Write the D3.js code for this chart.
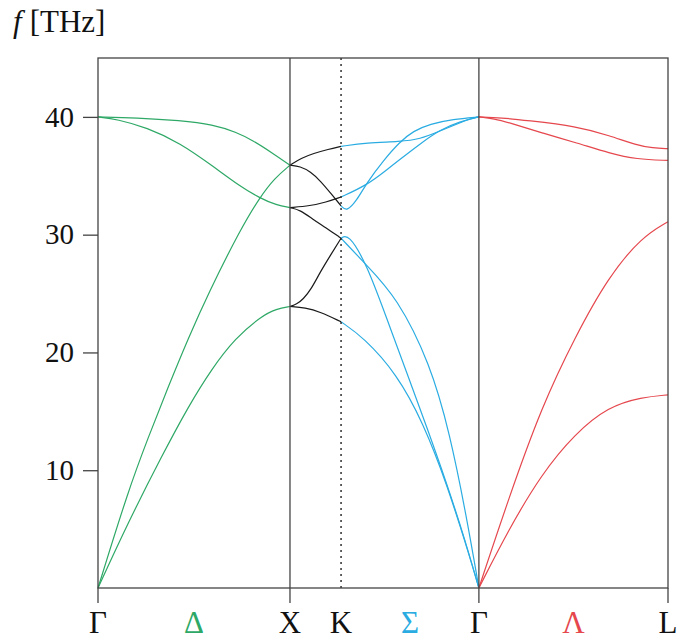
<!DOCTYPE html>
<html>
<head>
<script src="https://d3js.org/d3.v7.min.js"></script>
<style>
  body { margin: 0; background: #fff; }
</style>
</head>
<body>
<div id="chart"></div>
<script>
// high symmetry points along the path (path coordinate)
const pointLabels = ["Γ", "X", "K", "Γ", "L"];
const pointPos = [0, 1, 1.266, 1.984, 2.969];
const yTicks = [10, 20, 30, 40];

// direction labels sit between two points
const dirLabels = ["Δ", "Σ", "Λ"];
const dirBetween = [[0, 1], [2, 3], [3, 4]];

// branches as [t, f] with t = fraction along the segment, f in THz
const deltaBranches = [
  [[0, 0], [0.158, 5.6], [0.332, 11.2], [0.47, 15.4], [0.592, 18.6], [0.714, 21.2], [0.852, 23.1], [0.93, 23.7], [1, 23.9]],
  [[0, 0], [0.158, 8.3], [0.262, 12.8], [0.366, 17.1], [0.47, 21.2], [0.574, 25.0], [0.74, 30.4], [0.844, 33.2], [0.92, 34.8], [1, 35.9]],
  [[0, 40], [0.1, 39.8], [0.253, 39.1], [0.427, 37.8], [0.6, 35.8], [0.74, 34.1], [0.844, 33.1], [0.93, 32.5], [1, 32.3]],
  [[0, 40], [0.2, 39.93], [0.427, 39.7], [0.6, 39.35], [0.72, 38.7], [0.807, 38.0], [0.911, 36.9], [1, 35.9]]
];

const xkBranches = [
  [[0, 35.9], [0.22, 36.5], [0.46, 36.9], [0.75, 37.25], [1, 37.5]],
  [[0, 35.9], [0.2, 35.8], [0.4, 35.35], [0.6, 34.55], [0.8, 33.5], [1, 32.45]],
  [[0, 32.3], [0.4, 32.45], [0.7, 32.75], [1, 33.2]],
  [[0, 32.3], [0.2, 32.1], [0.45, 31.3], [0.7, 30.6], [1, 29.7]],
  [[0, 23.9], [0.13, 24.1], [0.255, 24.5], [0.42, 25.4], [0.588, 26.8], [0.8, 28.3], [1, 29.7]],
  [[0, 23.9], [0.3, 23.8], [0.588, 23.45], [1, 22.6]]
];

const sigmaBranches = [
  [[0, 37.5], [0.186, 37.8], [0.428, 37.9], [0.572, 38.1], [0.717, 38.8], [0.862, 39.5], [0.94, 39.85], [1, 40]],
  [[0, 32.45], [0.041, 31.95], [0.114, 32.9], [0.186, 34.4], [0.307, 36.3], [0.428, 37.9], [0.524, 38.8], [0.645, 39.4], [0.812, 39.8], [1, 40]],
  [[0, 33.2], [0.186, 34.2], [0.331, 35.5], [0.428, 36.4], [0.572, 37.7], [0.717, 38.9], [0.862, 39.6], [1, 40]],
  [[0, 29.7], [0.053, 30.1], [0.186, 27.5], [0.331, 22.9], [0.476, 18.3], [0.621, 13.7], [0.766, 8.9], [0.886, 4.6], [1, 0]],
  [[0, 29.7], [0.186, 27.4], [0.404, 24.7], [0.645, 19.1], [0.79, 13.1], [0.911, 6.0], [1, 0]],
  [[0, 22.6], [0.161, 21.3], [0.404, 18.2], [0.597, 14.0], [0.766, 8.9], [0.935, 2.6], [1, 0]]
];

const lambdaBranches = [
  [[0, 40], [0.12, 39.93], [0.252, 39.7], [0.517, 39.2], [0.693, 38.4], [0.834, 37.6], [0.92, 37.35], [1, 37.3]],
  [[0, 40], [0.08, 39.85], [0.164, 39.5], [0.34, 38.6], [0.517, 37.8], [0.693, 36.9], [0.834, 36.4], [1, 36.3]],
  [[0, 0], [0.155, 7.5], [0.332, 15.4], [0.508, 21.3], [0.684, 26.4], [0.861, 29.8], [1, 31.1]],
  [[0, 0], [0.155, 4.9], [0.332, 9.7], [0.508, 13.1], [0.684, 15.4], [0.861, 16.2], [1, 16.4]]
];

const green = "#2ea866", blue = "#2aace2", red = "#e5474d", black = "#1a1a1a";

const segments = [
  { from: 0, to: 1, branches: deltaBranches, color: green },
  { from: 1, to: 2, branches: xkBranches, color: black },
  { from: 2, to: 3, branches: sigmaBranches, color: blue },
  { from: 3, to: 4, branches: lambdaBranches, color: red }
];
const dirColors = [green, blue, red];

const width = 678, height = 641;
const margin = { top: 58, right: 10, bottom: 53, left: 98 };
const serif = "'Liberation Serif', 'Times New Roman', serif";

const svg = d3.select("#chart").append("svg")
  .attr("width", width)
  .attr("height", height);

const x = d3.scaleLinear()
  .domain([pointPos[0], pointPos[pointPos.length - 1]])
  .range([margin.left, width - margin.right]);

const y = d3.scaleLinear()
  .domain([0, 45])
  .range([height - margin.bottom, margin.top]);

const axisColor = "#444";

// branches (B-spline through the read-off points, smooths reading noise)
const line = d3.line()
  .x(d => x(d[0]))
  .y(d => y(d[1]))
  .curve(d3.curveBasis);

segments.forEach(seg => {
  const q0 = pointPos[seg.from], q1 = pointPos[seg.to];
  svg.append("g")
    .selectAll("path")
    .data(seg.branches)
    .join("path")
    .attr("d", b => line(b.map(p => [q0 + p[0] * (q1 - q0), p[1]])))
    .attr("fill", "none")
    .attr("stroke", seg.color)
    .attr("stroke-width", 1.2);
});

// vertical lines at inner points
svg.append("g")
  .selectAll("line")
  .data(pointPos.slice(1, -1))
  .join("line")
  .attr("x1", d => x(d)).attr("x2", d => x(d))
  .attr("y1", y(0)).attr("y2", y(45))
  .attr("stroke", (d, i) => pointLabels[i + 1] === "K" ? "#222" : axisColor)
  .attr("stroke-width", (d, i) => pointLabels[i + 1] === "K" ? 1.4 : 1.3)
  .attr("stroke-dasharray", (d, i) => pointLabels[i + 1] === "K" ? "2,4" : null);

// frame
svg.append("rect")
  .attr("x", x.range()[0]).attr("y", y(45))
  .attr("width", x.range()[1] - x.range()[0])
  .attr("height", y(0) - y(45))
  .attr("fill", "none")
  .attr("stroke", axisColor)
  .attr("stroke-width", 1.3);

// y axis
const yAxis = d3.axisLeft(y).tickValues(yTicks).tickSize(15).tickPadding(9);
const gy = svg.append("g")
  .attr("transform", `translate(${margin.left},0)`)
  .call(yAxis)
  .attr("font-family", serif)
  .attr("font-size", 29);
gy.select(".domain").remove();
gy.selectAll(".tick line").attr("stroke", axisColor).attr("stroke-width", 1.3);
gy.selectAll(".tick text").attr("fill", "#111");

// x axis ticks (not at K)
const xTickIdx = pointLabels.map((l, i) => i).filter(i => pointLabels[i] !== "K");
svg.append("g")
  .selectAll("line")
  .data(xTickIdx)
  .join("line")
  .attr("x1", i => x(pointPos[i])).attr("x2", i => x(pointPos[i]))
  .attr("y1", y(0)).attr("y2", y(0) + 15)
  .attr("stroke", axisColor)
  .attr("stroke-width", 1.3);

// point labels
svg.append("g")
  .attr("font-family", serif)
  .selectAll("text")
  .data(pointLabels)
  .join("text")
  .attr("x", (d, i) => x(pointPos[i]))
  .attr("y", 633)
  .attr("text-anchor", "middle")
  .attr("font-size", 31)
  .attr("fill", "#111")
  .text(d => d);

// direction labels
svg.append("g")
  .attr("font-family", serif)
  .selectAll("text")
  .data(dirLabels)
  .join("text")
  .attr("x", (d, i) => x((pointPos[dirBetween[i][0]] + pointPos[dirBetween[i][1]]) / 2))
  .attr("y", 633)
  .attr("text-anchor", "middle")
  .attr("font-size", 31)
  .attr("fill", (d, i) => dirColors[i])
  .text(d => d);

// y label
const yl = svg.append("text")
  .attr("x", 13)
  .attr("y", 32)
  .attr("font-family", serif)
  .attr("font-size", 31)
  .attr("fill", "#111");
yl.append("tspan").attr("font-style", "italic").text("f");
yl.append("tspan").attr("dx", 8).text("[THz]");
</script>
</body>
</html>
